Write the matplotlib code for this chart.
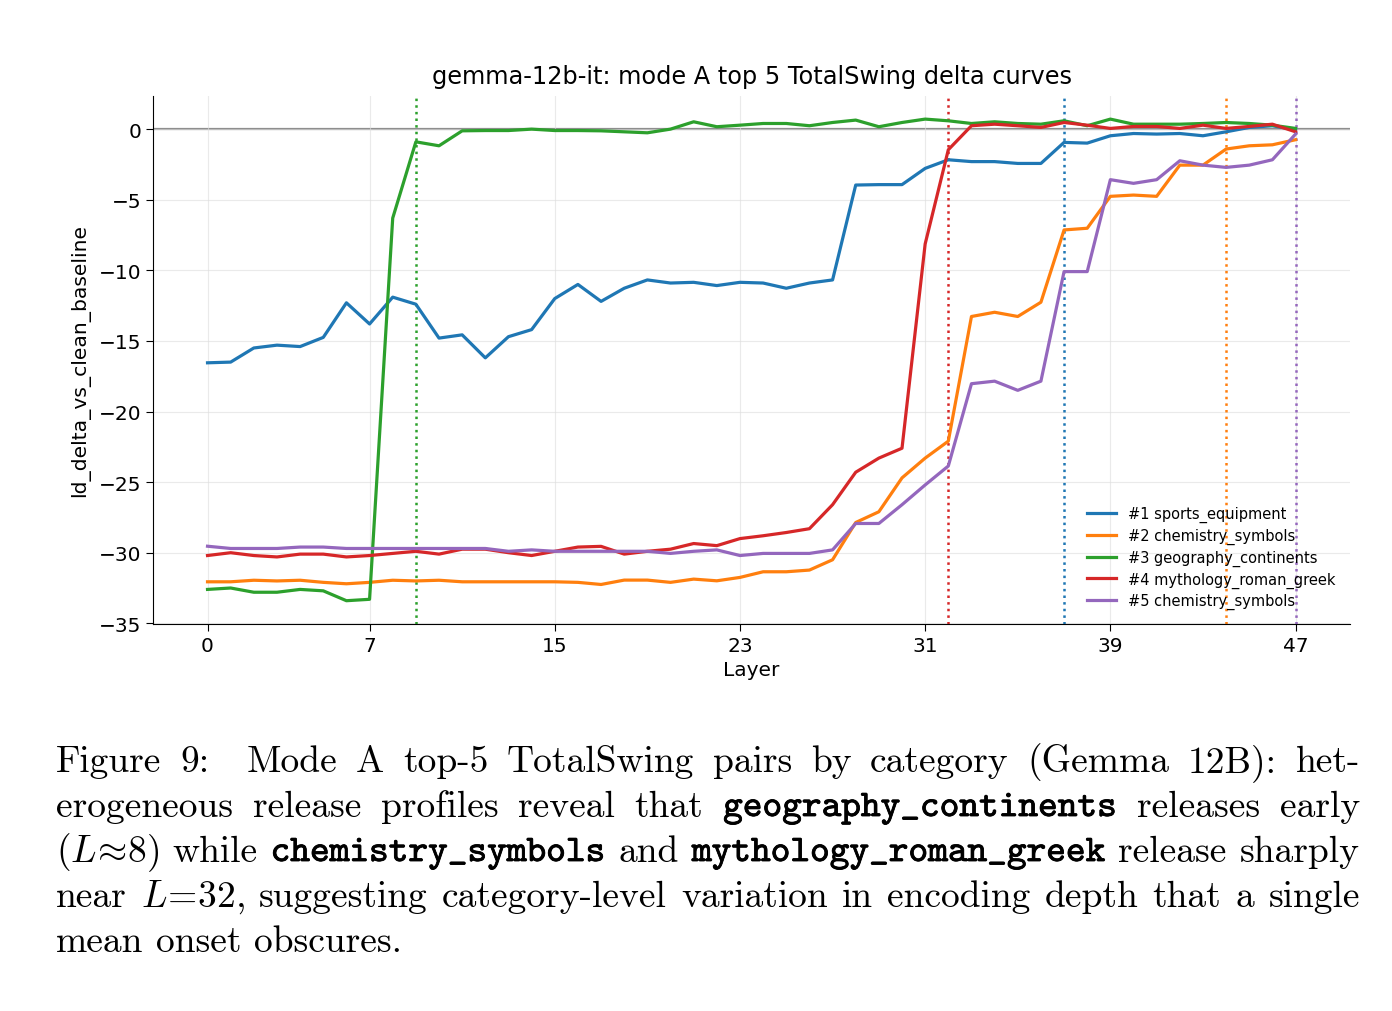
'''Mode A top-5 TotalSwing delta curves for gemma-12b-it, with the figure caption.'''
import matplotlib
matplotlib.use('Agg')
import matplotlib.pyplot as plt
import matplotlib.patheffects as pe

layers = list(range(48))

sports_equipment = [
    -16.55, -16.5, -15.5, -15.3, -15.4, -14.75, -12.3, -13.8, -11.9, -12.4,
    -14.8, -14.57, -16.2, -14.7, -14.2, -12.0, -11.0, -12.2, -11.27, -10.68,
    -10.9, -10.85, -11.08, -10.85, -10.9, -11.27, -10.9, -10.68, -3.96, -3.93,
    -3.93, -2.78, -2.17, -2.3, -2.3, -2.43, -2.43, -0.94, -0.99, -0.47,
    -0.31, -0.35, -0.31, -0.47, -0.19, 0.12, 0.24, -0.05]

chemistry_symbols_2 = [
    -32.06, -32.06, -31.95, -32.0, -31.95, -32.1, -32.2, -32.1, -31.95, -32.0,
    -31.95, -32.06, -32.06, -32.06, -32.06, -32.06, -32.1, -32.25, -31.94, -31.94,
    -32.1, -31.87, -31.99, -31.75, -31.35, -31.35, -31.23, -30.5, -27.86, -27.1,
    -24.7, -23.3, -22.1, -13.27, -12.97, -13.27, -12.26, -7.14, -7.02, -4.76,
    -4.67, -4.76, -2.55, -2.55, -1.41, -1.18, -1.11, -0.75]

geography_continents = [
    -32.6, -32.5, -32.8, -32.8, -32.6, -32.7, -33.4, -33.3, -6.3, -0.9,
    -1.18, -0.12, -0.1, -0.1, 0.0, -0.1, -0.1, -0.12, -0.19, -0.26,
    0.0, 0.52, 0.17, 0.28, 0.4, 0.4, 0.24, 0.47, 0.64, 0.17,
    0.47, 0.71, 0.59, 0.4, 0.52, 0.4, 0.35, 0.59, 0.24, 0.71,
    0.35, 0.35, 0.35, 0.4, 0.47, 0.4, 0.28, 0.05]

mythology_roman_greek = [
    -30.2, -30.0, -30.2, -30.3, -30.1, -30.1, -30.3, -30.2, -30.05, -29.9,
    -30.1, -29.75, -29.75, -30.0, -30.2, -29.9, -29.6, -29.55, -30.1, -29.9,
    -29.75, -29.35, -29.5, -29.0, -28.8, -28.57, -28.3, -26.6, -24.3, -23.3,
    -22.6, -8.13, -1.46, 0.24, 0.35, 0.24, 0.12, 0.47, 0.28, 0.05,
    0.19, 0.19, 0.05, 0.28, 0.05, 0.19, 0.35, -0.19]

chemistry_symbols_5 = [
    -29.54, -29.7, -29.7, -29.7, -29.6, -29.6, -29.7, -29.7, -29.7, -29.7,
    -29.7, -29.7, -29.7, -29.9, -29.8, -29.9, -29.9, -29.9, -29.9, -29.9,
    -30.05, -29.9, -29.8, -30.2, -30.05, -30.05, -30.05, -29.8, -27.93, -27.93,
    -26.6, -25.2, -23.86, -18.03, -17.85, -18.5, -17.85, -10.09, -10.09, -3.58,
    -3.84, -3.58, -2.24, -2.55, -2.71, -2.55, -2.17, -0.35]

series = [sports_equipment, chemistry_symbols_2, geography_continents,
          mythology_roman_greek, chemistry_symbols_5]
labels = ['#1 sports_equipment', '#2 chemistry_symbols', '#3 geography_continents',
          '#4 mythology_roman_greek', '#5 chemistry_symbols']
onsets = [37, 44, 9, 32, 47]
colors = ['#1f77b4', '#ff7f0e', '#2ca02c', '#d62728', '#9467bd']

x_ticks = [0, 7, 15, 23, 31, 39, 47]
y_ticks = [0, -5, -10, -15, -20, -25, -30, -35]

# caption, words in backticks are typewriter bold
caption_lines = [
    ('Figure 9:  Mode A top-5 TotalSwing pairs by category (Gemma 12B): het-', True),
    ('erogeneous release profiles reveal that `geography_continents` releases early', True),
    (r'$(L\!\approx\!8)$ while `chemistry_symbols` and `mythology_roman_greek` release sharply', True),
    (r'near $L\!=\!32$, suggesting category-level variation in encoding depth that a single', True),
    ('mean onset obscures.', False),
]


def draw_caption(fig, lines, left, right, top, step, size):
    '''Places the caption word by word so that full lines are justified.'''
    fig.canvas.draw()
    renderer = fig.canvas.get_renderer()
    fig_w = fig.get_figwidth() * fig.dpi
    space = 0.333 * size * fig.dpi / 72 / fig_w
    for i, (line, justify) in enumerate(lines):
        y = top - i * step
        words = []
        weights = []
        for token in line.split(' '):
            if token == '':
                # a double space stretches the following gap
                weights[-1] += 1
                continue
            if token.startswith('`'):
                t = fig.text(0, y, token.strip('`'), family='cmtt10', fontsize=size,
                             va='baseline',
                             path_effects=[pe.withStroke(linewidth=0.6, foreground='black')])
            else:
                t = fig.text(0, y, token, family='cmr10', fontsize=size, va='baseline')
            words.append(t)
            weights.append(1)
        weights = weights[:-1]
        widths = [t.get_window_extent(renderer).width / fig_w for t in words]
        if justify:
            unit = (right - left - sum(widths)) / sum(weights)
        else:
            unit = space
        x = left
        for j, (t, w) in enumerate(zip(words, widths)):
            t.set_x(x)
            if j < len(weights):
                x += w + unit * weights[j]


plt.rcParams['mathtext.fontset'] = 'cm'
fig = plt.figure(figsize=(13.92, 10.12), dpi=100)
ax = fig.add_axes([0.11, 0.3824, 0.8598, 0.5218])

ax.axhline(0, color='#808080', linewidth=1.6, alpha=0.9, zorder=1)
for values, label, color in zip(series, labels, colors):
    ax.plot(layers, values, color=color, linewidth=2.3, label=label, zorder=3)
for onset, color in zip(onsets, colors):
    ax.axvline(onset, color=color, linestyle=':', linewidth=1.8, zorder=2)

ax.set_xticks(x_ticks)
ax.set_yticks(y_ticks)
ax.set_ylim(-35.05, 2.35)
ax.tick_params(labelsize=14.5, length=5)
ax.grid(True, color='#dddddd', linewidth=0.8, alpha=0.6)
ax.spines['top'].set_visible(False)
ax.spines['right'].set_visible(False)
ax.set_xlabel('Layer', fontsize=14.5)
ax.set_ylabel('ld_delta_vs_clean_baseline', fontsize=14.6, labelpad=6)
ax.set_title('gemma-12b-it: mode A top 5 TotalSwing delta curves', fontsize=17.3, pad=9)
ax.legend(loc='lower right', frameon=False, fontsize=10.5, labelspacing=0.38,
          borderaxespad=0.6)

draw_caption(fig, caption_lines, left=56 / 1392, right=1360 / 1392,
             top=1 - 772 / 1012, step=45 / 1012, size=27)

fig.savefig('out.png', dpi=100)
plt.close(fig)
